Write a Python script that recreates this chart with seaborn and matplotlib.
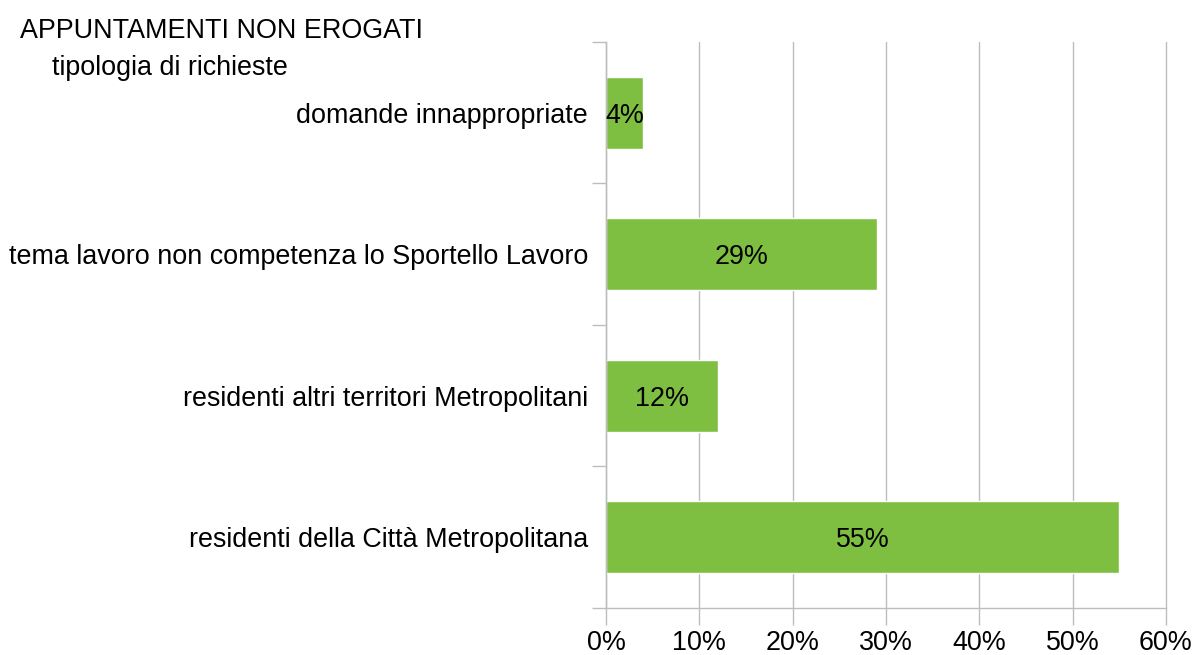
import matplotlib
matplotlib.use("Agg")
import matplotlib.pyplot as plt
import seaborn as sns
import pandas as pd
from matplotlib.ticker import FixedLocator, PercentFormatter

# data (top to bottom)
categories = [
    "domande innappropriate",
    "tema lavoro non competenza lo Sportello Lavoro",
    "residenti altri territori Metropolitani",
    "residenti della Città Metropolitana",
]
values = [4, 29, 12, 55]
x_ticks = [0, 10, 20, 30, 40, 50, 60]

df = pd.DataFrame({"tipologia": categories, "pct": values})

sns.set_theme(style="white")
plt.rcParams["font.family"] = ["Liberation Sans", "DejaVu Sans"]

grey = "#bdbdbd"
green = "#7ebf41"
fs = 19.4

fig = plt.figure(figsize=(11.95, 6.55), dpi=100)
ax = fig.add_axes([0.5071, 0.0718, 0.4686, 0.8641])

sns.barplot(data=df, x="pct", y="tipologia", orient="h", color=green,
            width=0.51, saturation=1, ax=ax)

for i, v in enumerate(values):
    ax.text(v / 2, i, f"{v}%", ha="center", va="center_baseline", fontsize=fs, color="black")

ax.set_xlim(0, 60)
ax.set_ylim(3.5, -0.5)
ax.xaxis.set_major_locator(FixedLocator(x_ticks))
ax.xaxis.set_major_formatter(PercentFormatter(decimals=0))
ax.grid(axis="x", color=grey, linewidth=1)
for gl in ax.get_xgridlines():
    gl.set_clip_on(False)
ax.set_axisbelow(True)

ax.yaxis.set_minor_locator(FixedLocator([-0.5, 0.5, 1.5, 2.5, 3.5]))
ax.tick_params(axis="y", which="major", length=0, labelsize=fs, pad=13, colors="black")
ax.tick_params(axis="y", which="minor", length=10, width=1, color=grey, left=True)
ax.tick_params(axis="x", which="major", length=12, width=1, color=grey, bottom=True,
               labelsize=fs, pad=4, labelcolor="black")

for side in ["top", "right"]:
    ax.spines[side].set_visible(False)
for side in ["left", "bottom"]:
    ax.spines[side].set_color(grey)
    ax.spines[side].set_linewidth(1)

ax.set_xlabel("")
ax.set_ylabel("")

fig.text(20 / 1195, 1 - 18 / 655, "APPUNTAMENTI NON EROGATI", ha="left", va="top",
         fontsize=fs, color="black")
fig.text(52 / 1195, 1 - 55 / 655, "tipologia di richieste", ha="left", va="top",
         fontsize=fs, color="black")

fig.savefig("out.png", dpi=100)
